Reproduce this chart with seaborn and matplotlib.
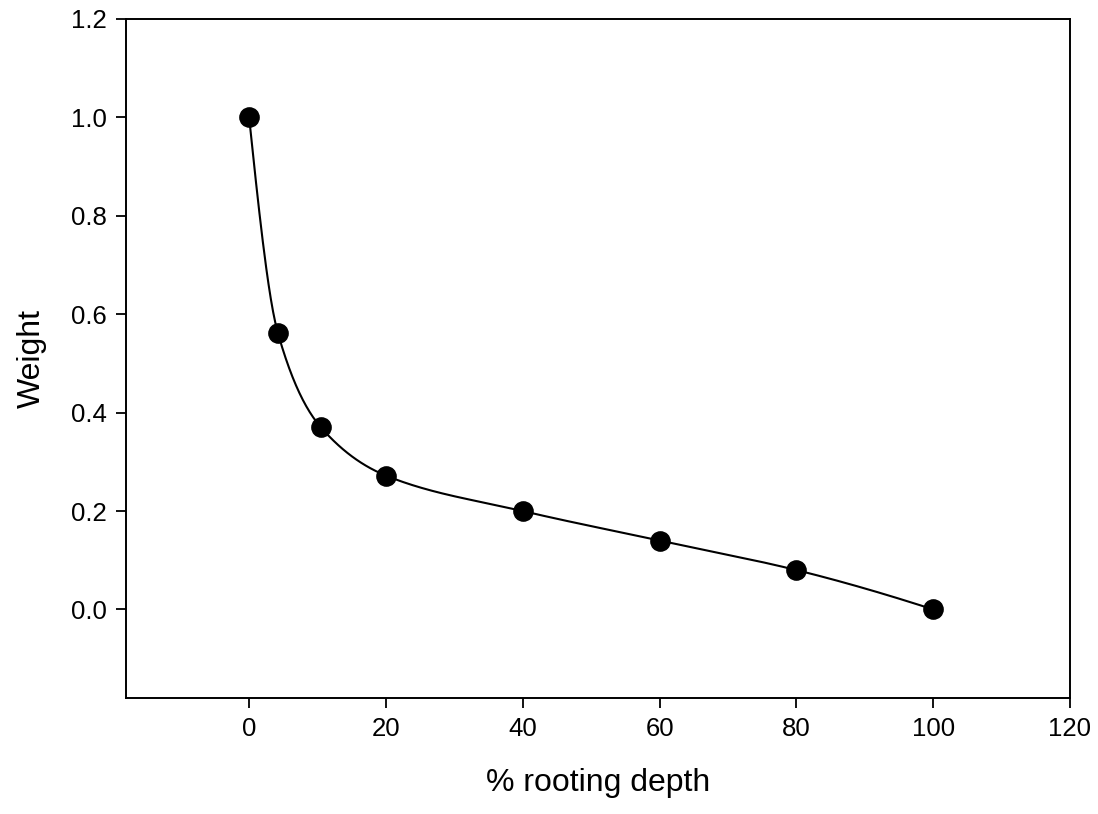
import numpy as np
import pandas as pd
import seaborn as sns
import matplotlib
matplotlib.use('Agg')
import matplotlib.pyplot as plt

depth = [0, 4.2, 10.5, 20, 40, 60, 80, 100]
weight = [1.0, 0.562, 0.370, 0.272, 0.200, 0.140, 0.080, 0.0]
xticks = [0, 20, 40, 60, 80, 100, 120]
yticks = [0.0, 0.2, 0.4, 0.6, 0.8, 1.0, 1.2]


def pchip(x, y, xs):
    # monotone cubic curve through the points (Fritsch-Carlson)
    x = np.asarray(x, float)
    y = np.asarray(y, float)
    h = np.diff(x)
    d = np.diff(y) / h
    m = np.zeros_like(y)
    for k in range(1, len(x) - 1):
        if d[k - 1] * d[k] > 0:
            w1 = 2 * h[k] + h[k - 1]
            w2 = h[k] + 2 * h[k - 1]
            m[k] = (w1 + w2) / (w1 / d[k - 1] + w2 / d[k])
    m[0] = ((2 * h[0] + h[1]) * d[0] - h[0] * d[1]) / (h[0] + h[1])
    if np.sign(m[0]) != np.sign(d[0]):
        m[0] = 0
    m[-1] = ((2 * h[-1] + h[-2]) * d[-1] - h[-1] * d[-2]) / (h[-1] + h[-2])
    if np.sign(m[-1]) != np.sign(d[-1]):
        m[-1] = 0
    idx = np.clip(np.searchsorted(x, xs) - 1, 0, len(x) - 2)
    t = (xs - x[idx]) / h[idx]
    h00 = 2 * t**3 - 3 * t**2 + 1
    h10 = t**3 - 2 * t**2 + t
    h01 = -2 * t**3 + 3 * t**2
    h11 = t**3 - t**2
    return (h00 * y[idx] + h10 * h[idx] * m[idx]
            + h01 * y[idx + 1] + h11 * h[idx] * m[idx + 1])


df = pd.DataFrame({'depth': depth, 'weight': weight})
xs = np.linspace(0, 100, 600)
curve = pd.DataFrame({'depth': xs, 'weight': pchip(depth, weight, xs)})

sns.set_style('ticks')
plt.rcParams['font.family'] = ['Liberation Sans', 'DejaVu Sans']
plt.rcParams['text.color'] = 'black'
plt.rcParams['axes.labelcolor'] = 'black'

fig = plt.figure(figsize=(10.98, 8.14), dpi=100)
ax = fig.add_axes([126 / 1098, 1 - 698 / 814, (1070 - 126) / 1098, (698 - 19) / 814])

sns.lineplot(data=curve, x='depth', y='weight', color='black', linewidth=1.5, ax=ax)
sns.scatterplot(data=df, x='depth', y='weight', color='black', s=190,
                edgecolor='black', zorder=3, ax=ax)

ax.set_xlim(-18, 120)
ax.set_ylim(-0.18, 1.2)
ax.set_xticks(xticks)
ax.set_yticks(yticks)
ax.set_xticklabels([str(v) for v in xticks])
ax.set_yticklabels([f'{v:.1f}' for v in yticks])
ax.tick_params(direction='out', length=7, width=1.3, labelsize=18.5, colors='black', pad=7)
for s in ax.spines.values():
    s.set_linewidth(1.4)
    s.set_color('black')
ax.set_xlabel('% rooting depth', fontsize=23, labelpad=19)
ax.set_ylabel('Weight', fontsize=23, labelpad=17)

fig.savefig('out.png', dpi=100)
